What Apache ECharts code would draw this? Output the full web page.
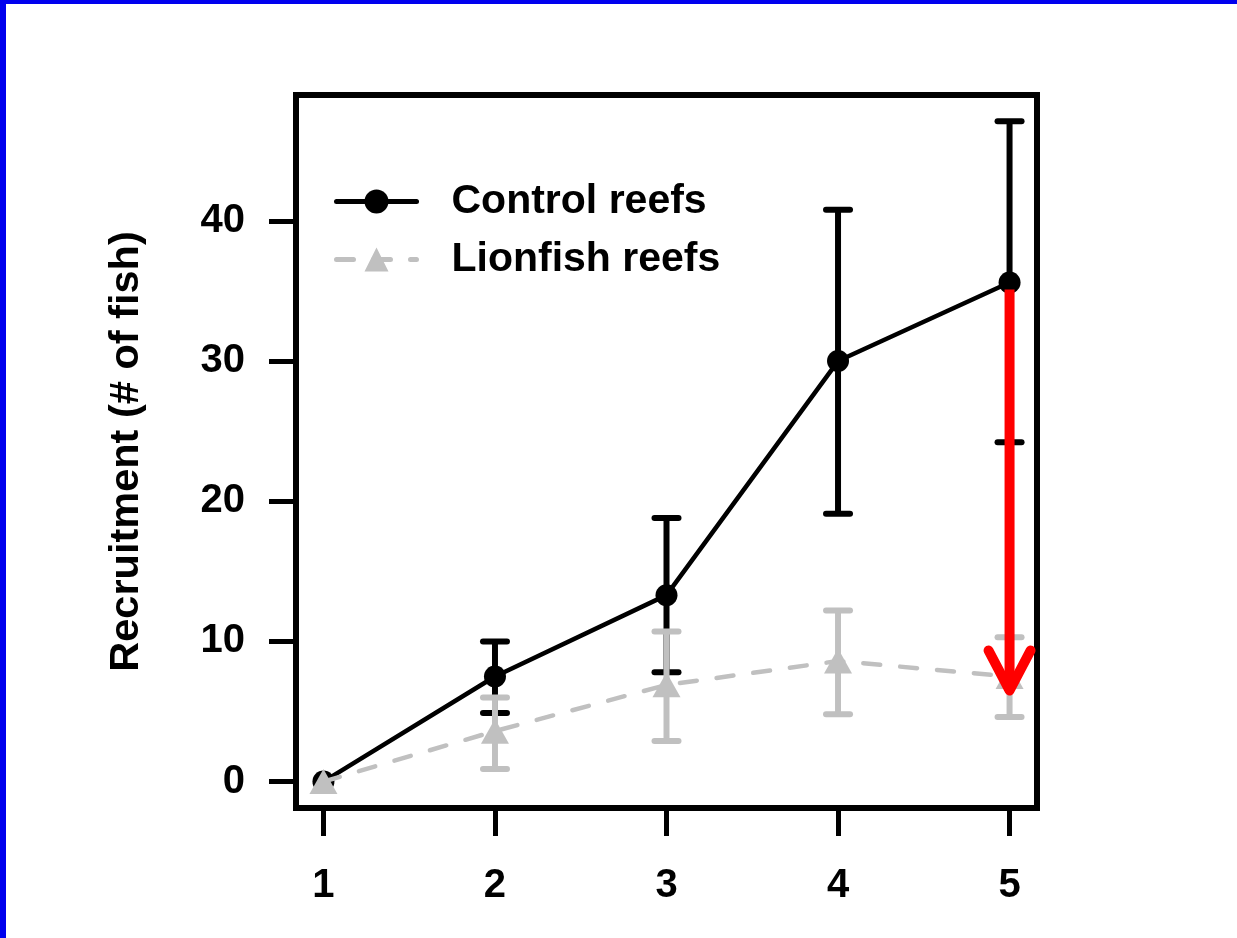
<!DOCTYPE html>
<html>
<head>
<meta charset="utf-8">
<script src="https://cdn.jsdelivr.net/npm/echarts@6/dist/echarts.min.js"></script>
<style>
html,body{margin:0;padding:0;background:#fff;}
#chart{position:absolute;left:0;top:0;width:1237px;height:938px;}
#bl{position:absolute;left:0;top:0;width:6px;height:938px;background:#0000ee;z-index:10;}
#bt{position:absolute;left:0;top:0;width:1237px;height:4px;background:#0000ee;z-index:10;}
</style>
</head>
<body>
<div id="chart"></div>
<div id="bl"></div>
<div id="bt"></div>
<script>
// ---- data ----
const xVals = [1, 2, 3, 4, 5];
const xTicks = [1, 2, 3, 4, 5];
const yTicks = [0, 10, 20, 30, 40];
const seriesNames = ['Control reefs', 'Lionfish reefs'];
const controlMean = [0, 7.5, 13.3, 30.0, 35.6];
const controlLow  = [null, 4.9, 7.8, 19.1, 24.2];
const controlHigh = [null, 10.0, 18.8, 40.8, 47.1];
const lionMean = [0, 3.6, 6.9, 8.6, 7.5];
const lionLow  = [null, 0.9, 2.9, 4.8, 4.6];
const lionHigh = [null, 6.0, 10.7, 12.2, 10.3];
const arrowX = 5;
const arrowFromY = 35.1;
const arrowToY = 6.5;
const yTitle = 'Recruitment (# of fish)';

// ---- build ----
const FONT = "'Liberation Sans', Arial, sans-serif";
const pts = (m) => xVals.map((x, i) => [x, m[i]]);
const errs = (lo, hi) => xVals.map((x, i) => [x, lo[i], hi[i]]).filter(d => d[1] != null);

function errRender(color) {
  return function (params, api) {
    const x = api.value(0);
    const lo = api.coord([x, api.value(1)]);
    const hi = api.coord([x, api.value(2)]);
    const hw = 12;
    const st = { stroke: color, lineWidth: 6, fill: null };
    return {
      type: 'group',
      children: [
        { type: 'line', shape: { x1: lo[0], y1: lo[1], x2: hi[0], y2: hi[1] }, style: st },
        { type: 'line', shape: { x1: hi[0] - hw, y1: hi[1], x2: hi[0] + hw, y2: hi[1] }, style: Object.assign({ lineCap: 'round' }, st) },
        { type: 'line', shape: { x1: lo[0] - hw, y1: lo[1], x2: lo[0] + hw, y2: lo[1] }, style: Object.assign({ lineCap: 'round' }, st) }
      ]
    };
  };
}

const chart = echarts.init(document.getElementById('chart'), null, { renderer: 'canvas' });
chart.setOption({
  animation: false,
  backgroundColor: '#fff',
  grid: {
    left: 296, right: 200, top: 95, bottom: 130,
    show: true, borderWidth: 6, borderColor: '#000', backgroundColor: 'transparent'
  },
  legend: {
    orient: 'vertical',
    left: 334, top: 181,
    padding: 0,
    itemWidth: 80, itemHeight: 30, itemGap: 17,
    data: seriesNames,
    lineStyle: { width: 5, cap: 'round' },
    textStyle: { fontFamily: FONT, fontSize: 41, fontWeight: 'bold', color: '#000', lineHeight: 40, padding: [0, 0, 0, 30] }
  },
  xAxis: {
    type: 'value', min: 0.84, max: 5.16,
    axisLine: { show: false, onZero: false },
    splitLine: { show: false },
    axisTick: { show: true, inside: false, length: 28, customValues: xTicks, lineStyle: { color: '#000', width: 5 } },
    axisLabel: { customValues: xTicks, margin: 58, fontFamily: FONT, fontSize: 40, fontWeight: 'bold', color: '#000' }
  },
  yAxis: {
    type: 'value', min: -1.884, max: 48.98,
    name: yTitle, nameLocation: 'middle', nameGap: 148,
    nameTextStyle: { fontFamily: FONT, fontSize: 41.5, fontWeight: 'bold', color: '#000' },
    axisLine: { show: false, onZero: false },
    splitLine: { show: false },
    axisTick: { show: true, inside: false, length: 27, customValues: yTicks, lineStyle: { color: '#000', width: 5 } },
    axisLabel: { customValues: yTicks, margin: 51, fontFamily: FONT, fontSize: 40, fontWeight: 'bold', color: '#000' }
  },
  series: [
    {
      name: seriesNames[0], type: 'line', z: 3,
      data: pts(controlMean),
      symbol: 'circle', symbolSize: 22,
      itemStyle: { color: '#000' },
      lineStyle: { color: '#000', width: 4.5, cap: 'round' }
    },
    {
      name: 'controlErr', type: 'custom', z: 2,
      data: errs(controlLow, controlHigh),
      encode: { x: 0, y: [1, 2] },
      renderItem: errRender('#000')
    },
    {
      name: 'lionErr', type: 'custom', z: 4,
      data: errs(lionLow, lionHigh),
      encode: { x: 0, y: [1, 2] },
      renderItem: errRender('#c0c0c0')
    },
    {
      name: seriesNames[1], type: 'line', z: 5,
      data: pts(lionMean),
      symbol: 'triangle', symbolSize: [28, 25],
      itemStyle: { color: '#c0c0c0' },
      lineStyle: { color: '#c0c0c0', width: 4.5, type: [17, 20], cap: 'round' }
    },
    {
      name: 'arrow', type: 'custom', z: 10,
      data: [[arrowX, arrowFromY, arrowToY]],
      encode: { x: 0, y: [1, 2] },
      renderItem: function (params, api) {
        const x = api.value(0);
        const a = api.coord([x, api.value(1)]);
        const b = api.coord([x, api.value(2)]);
        return {
          type: 'group',
          children: [
            { type: 'line', shape: { x1: a[0], y1: a[1], x2: b[0], y2: b[1] }, style: { stroke: '#ff0000', lineWidth: 10, lineCap: 'butt' } },
            { type: 'polyline', shape: { points: [[b[0] - 21, b[1] - 40], [b[0], b[1]], [b[0] + 21, b[1] - 40]] },
              style: { stroke: '#ff0000', lineWidth: 10, lineCap: 'round', lineJoin: 'round', fill: null } }
          ]
        };
      }
    }
  ]
});
</script>
</body>
</html>
